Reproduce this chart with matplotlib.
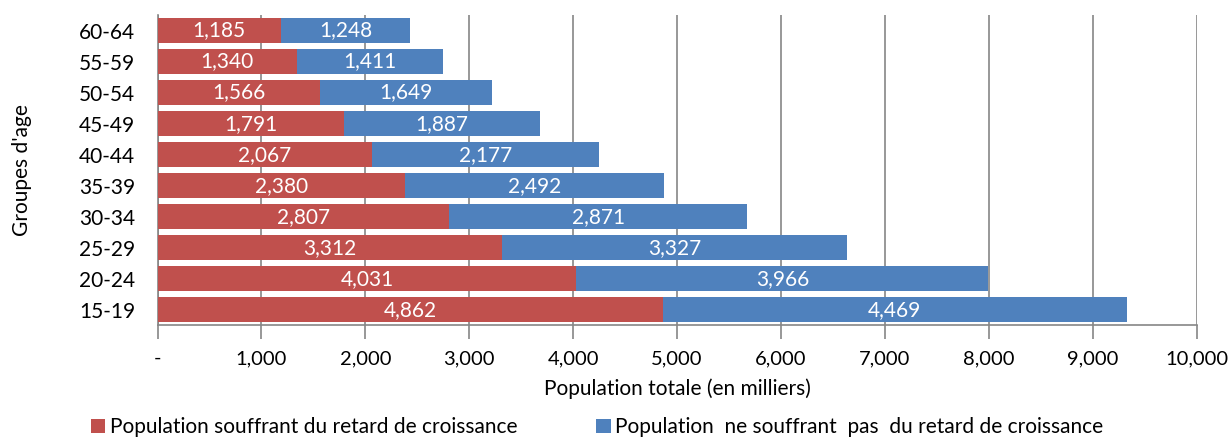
import matplotlib.pyplot as plt
import numpy as np

plt.rcParams['font.family'] = ['Lato', 'DejaVu Sans']

age_groups = ['15-19', '20-24', '25-29', '30-34', '35-39',
              '40-44', '45-49', '50-54', '55-59', '60-64']
stunted = [4862, 4031, 3312, 2807, 2380, 2067, 1791, 1566, 1340, 1185]
not_stunted = [4469, 3966, 3327, 2871, 2492, 2177, 1887, 1649, 1411, 1248]
x_ticks = [0, 1000, 2000, 3000, 4000, 5000, 6000, 7000, 8000, 9000, 10000]
x_tick_labels = ['-', '1,000', '2,000', '3,000', '4,000', '5,000',
                 '6,000', '7,000', '8,000', '9,000', '10,000']

red = '#C0504D'
blue = '#4F81BD'
grey = '#868686'

fig = plt.figure(figsize=(12.31, 4.43), dpi=100)
ax = fig.add_axes([0.128, 0.266, 0.844, 0.70])

y = np.arange(len(age_groups))
b1 = ax.barh(y, stunted, height=0.8, color=red,
             label='Population souffrant du retard de croissance', zorder=3)
b2 = ax.barh(y, not_stunted, left=stunted, height=0.8, color=blue,
             label='Population  ne souffrant  pas  du retard de croissance', zorder=3)

for i in range(len(age_groups)):
    ax.text(stunted[i] / 2, y[i], '{:,}'.format(stunted[i]), color='white',
            ha='center', va='center', fontsize=15, zorder=4)
    ax.text(stunted[i] + not_stunted[i] / 2, y[i], '{:,}'.format(not_stunted[i]),
            color='white', ha='center', va='center', fontsize=15, zorder=4)

ax.set_xlim(0, 10000)
ax.set_ylim(-0.5, len(age_groups) - 0.5)
ax.set_xticks(x_ticks)
ax.set_xticklabels(x_tick_labels, fontsize=14.5)
ax.set_yticks(y)
ax.set_yticklabels(age_groups, fontsize=15)
ax.xaxis.grid(True, color=grey, linewidth=1.2, zorder=0)
ax.tick_params(axis='x', length=10, width=1.2, color=grey, direction='out', pad=8)
ax.tick_params(axis='y', length=0, pad=16)
for s in ['top', 'right']:
    ax.spines[s].set_visible(False)
ax.spines['left'].set_color(grey)
ax.spines['bottom'].set_color(grey)
ax.spines['left'].set_linewidth(1.2)
ax.spines['bottom'].set_linewidth(1.2)

ax.set_xlabel('Population totale (en milliers)', fontsize=15, labelpad=8)
ax.set_ylabel("Groupes d'age", fontsize=15, labelpad=34)

fig.legend(handles=[b1, b2], loc='center', bbox_to_anchor=(0.485, 0.035), ncol=2,
           frameon=False, fontsize=15, handlelength=0.7, handleheight=0.7,
           handletextpad=0.2, columnspacing=3.8)

fig.savefig('out.png', dpi=100)
